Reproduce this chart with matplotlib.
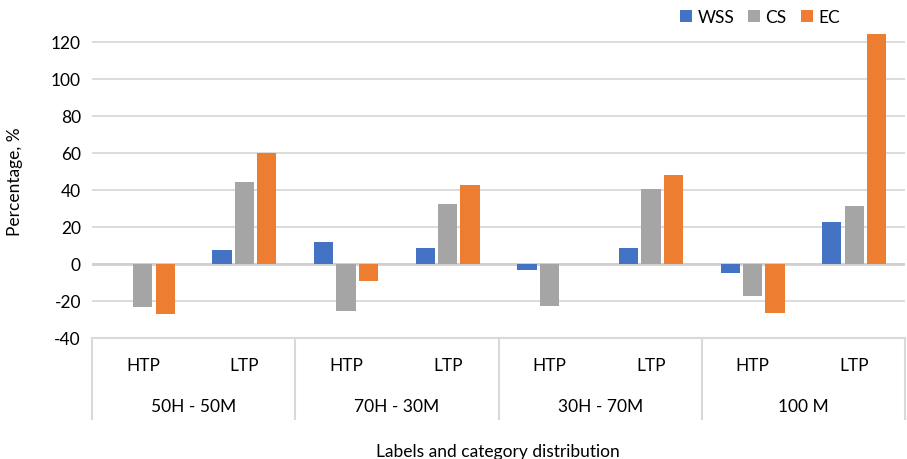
import numpy as np
from matplotlib import pyplot as plt
from matplotlib import transforms

plt.rcParams['font.family'] = ['Lato', 'DejaVu Sans']
plt.rcParams['axes.unicode_minus'] = False

#Data
groups = ["50H - 50M", "70H - 30M", "30H - 70M", "100 M"]
labels = ["HTP", "LTP"] * 4
wss = [0, 7.2, 11.5, 8.7, -3.6, 8.3, -4.9, 22.4]
cs = [-23.3, 44.4, -25.3, 32.5, -23.0, 40.6, -17.2, 31.4]
ec = [-27.4, 59.6, -9.6, 42.6, 0, 48.2, -26.5, 124.1]

series = [("WSS", wss, "#4472C4"), ("CS", cs, "#A5A5A5"), ("EC", ec, "#ED7D31")]

fig = plt.figure(figsize=(9.07, 4.60), dpi=100)
ax = fig.add_axes([92/907, (460-338.7)/460, 813/907, (338.7-24.2)/460])

x = np.arange(len(labels))
w = 0.19
step = 0.22
for i, (name, vals, col) in enumerate(series):
    ax.bar(x + (i-1)*step, vals, w, color=col, label=name, zorder=3, linewidth=0)

#Axis setup
ax.set_xlim(-0.5, 7.5)
ax.set_ylim(-40, 130)
ax.set_yticks(range(-40, 121, 20))
ax.tick_params(axis="y", length=0, labelsize=12.5, pad=8)
ax.set_xticks([])
ax.yaxis.grid(True, color="#d9d9d9", linewidth=1.3, zorder=0)
ax.axhline(0, color="#d0d0d0", linewidth=2, zorder=2)
for s in ax.spines.values():
    s.set_visible(False)
ax.set_ylabel("Percentage, %", fontsize=12.5, labelpad=20)

#Category axis below
trans = transforms.blended_transform_factory(ax.transData, ax.transAxes)
ax.plot([-0.5, 7.5], [0, 0], transform=trans, color="#d9d9d9", lw=1.5, clip_on=False)
for b in [-0.5, 1.5, 3.5, 5.5, 7.5]:
    ax.plot([b, b], [0, -0.2585], transform=trans, color="#d9d9d9", lw=1.5, clip_on=False)
for xi, lab in zip(x, labels):
    ax.text(xi, -0.087, lab, transform=trans, ha="center", va="center", fontsize=12.5)
for gi, g in enumerate(groups):
    ax.text(2*gi + 0.5, -0.217, g, transform=trans, ha="center", va="center", fontsize=12.5)

fig.text(498/907, 1 - 452/460, "Labels and category distribution", ha="center", va="center", fontsize=12.5)

#Legend
ax.legend(loc="center", bbox_to_anchor=(760/907, 1 - 18/460), bbox_transform=fig.transFigure,
          ncol=3, frameon=False, fontsize=12.5, handlelength=0.7, handleheight=0.7,
          handletextpad=0.3, columnspacing=0.8)

plt.savefig("out.png", dpi=100)
